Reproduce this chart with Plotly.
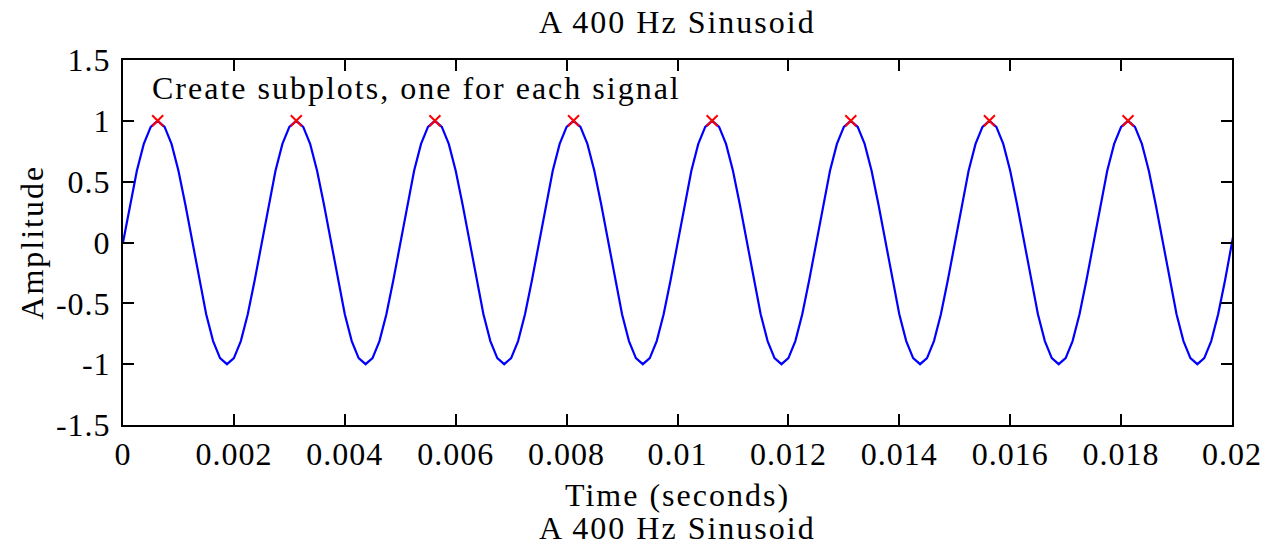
import plotly.graph_objects as go

# ---- data ----
t_start = 0.0          # first sample time (s)
t_step = 0.000125      # sample spacing (s), 8 kHz sampling
amplitude = [
    0, 0.31, 0.59, 0.81, 0.95, 1, 0.95, 0.81, 0.59, 0.31, 0, -0.31, -0.59, -0.81, -0.95, -1, -0.95, -0.81, -0.59, -0.31,
    0, 0.31, 0.59, 0.81, 0.95, 1, 0.95, 0.81, 0.59, 0.31, 0, -0.31, -0.59, -0.81, -0.95, -1, -0.95, -0.81, -0.59, -0.31,
    0, 0.31, 0.59, 0.81, 0.95, 1, 0.95, 0.81, 0.59, 0.31, 0, -0.31, -0.59, -0.81, -0.95, -1, -0.95, -0.81, -0.59, -0.31,
    0, 0.31, 0.59, 0.81, 0.95, 1, 0.95, 0.81, 0.59, 0.31, 0, -0.31, -0.59, -0.81, -0.95, -1, -0.95, -0.81, -0.59, -0.31,
    0, 0.31, 0.59, 0.81, 0.95, 1, 0.95, 0.81, 0.59, 0.31, 0, -0.31, -0.59, -0.81, -0.95, -1, -0.95, -0.81, -0.59, -0.31,
    0, 0.31, 0.59, 0.81, 0.95, 1, 0.95, 0.81, 0.59, 0.31, 0, -0.31, -0.59, -0.81, -0.95, -1, -0.95, -0.81, -0.59, -0.31,
    0, 0.31, 0.59, 0.81, 0.95, 1, 0.95, 0.81, 0.59, 0.31, 0, -0.31, -0.59, -0.81, -0.95, -1, -0.95, -0.81, -0.59, -0.31,
    0, 0.31, 0.59, 0.81, 0.95, 1, 0.95, 0.81, 0.59, 0.31, 0, -0.31, -0.59, -0.81, -0.95, -1, -0.95, -0.81, -0.59, -0.31,
    0, 0.31,
]
peak_times = [0.000625, 0.003125, 0.005625, 0.008125, 0.010625, 0.013125, 0.015625, 0.018125]
peak_values = [1, 1, 1, 1, 1, 1, 1, 1]

x_tick_vals = [0, 0.002, 0.004, 0.006, 0.008, 0.01, 0.012, 0.014, 0.016, 0.018, 0.02]
x_tick_text = ["0", "0.002", "0.004", "0.006", "0.008", "0.01", "0.012", "0.014", "0.016", "0.018", "0.02"]
y_tick_vals = [-1.5, -1, -0.5, 0, 0.5, 1, 1.5]
y_tick_text = ["-1.5", "-1", "-0.5", "0", "0.5", "1", "1.5"]

title_text = "A 400 Hz Sinusoid"
note_text = "Create subplots, one for each signal"
x_label = "Time (seconds)"
y_label = "Amplitude"

FONT = "Liberation Serif, Times New Roman, serif"
FS = 32


def spaced(s, px=2):
    return '<span style="letter-spacing:%dpx">%s</span>' % (px, s)


W, H = 1274, 545
PL, PR, PT, PB = 123, 40, 60, 120
PW, PH = W - PL - PR, H - PT - PB

fig = go.Figure()
fig.add_trace(go.Scatter(
    x0=t_start, dx=t_step, y=amplitude, mode="lines",
    line=dict(color="#0000ff", width=2.2), showlegend=False, hoverinfo="skip",
))
fig.add_trace(go.Scatter(
    x=peak_times, y=peak_values, mode="markers",
    marker=dict(symbol="x-thin", size=11, color="#ff0000",
                line=dict(color="#ff0000", width=2)),
    showlegend=False, cliponaxis=False,
))

axis_common = dict(
    showgrid=False, zeroline=False, showline=True, mirror="ticks",
    linecolor="black", linewidth=2, ticks="inside", ticklen=11,
    tickwidth=2, tickcolor="black",
    tickfont=dict(family=FONT, size=FS, color="black"),
)
fig.update_xaxes(range=[0, 0.02], tickvals=x_tick_vals,
                 ticktext=[spaced(t, 1) for t in x_tick_text], **axis_common)
fig.update_yaxes(range=[-1.5, 1.5], tickvals=y_tick_vals,
                 ticktext=[spaced(t, 1) for t in y_tick_text], ticklabelstandoff=4, **axis_common)

fig.update_layout(
    width=W, height=H,
    margin=dict(l=PL, r=PR, t=PT, b=PB),
    paper_bgcolor="white", plot_bgcolor="white",
    font=dict(family=FONT, size=FS, color="black"),
    annotations=[
        dict(text=spaced(title_text), xref="paper", yref="paper", x=0.5, y=1 + 38 / PH,
             showarrow=False, xanchor="center", yanchor="middle", font=dict(size=FS)),
        dict(text=spaced(note_text), xref="paper", yref="paper", x=27 / PW, y=1 - 28 / PH,
             showarrow=False, xanchor="left", yanchor="middle", font=dict(size=FS)),
        dict(text=spaced(x_label), xref="paper", yref="paper", x=0.5, y=-70 / PH,
             showarrow=False, xanchor="center", yanchor="middle", font=dict(size=FS)),
        dict(text=spaced(title_text), xref="paper", yref="paper", x=0.5, y=-103 / PH,
             showarrow=False, xanchor="center", yanchor="middle", font=dict(size=FS)),
        dict(text=spaced(y_label), xref="paper", yref="paper", x=-92 / PW, y=0.5, textangle=-90,
             showarrow=False, xanchor="center", yanchor="middle", font=dict(size=FS)),
    ],
)

fig.write_html("out.html", config={"displayModeBar": False},
               post_script="document.body.style.margin='0';")
